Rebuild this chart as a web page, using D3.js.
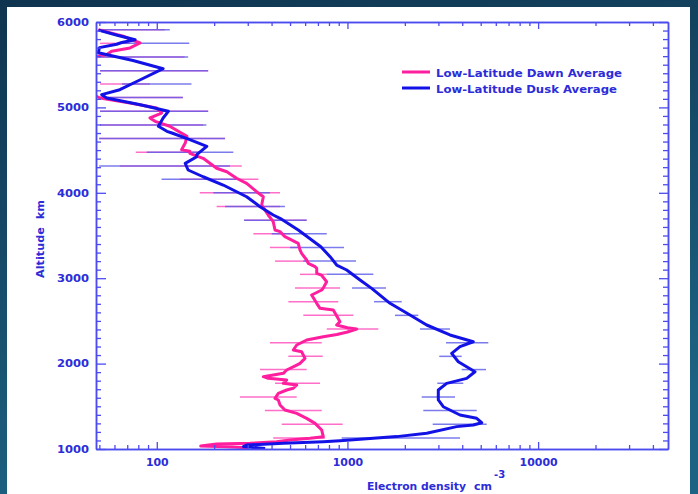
<!DOCTYPE html>
<html>
<head>
<meta charset="utf-8">
<script src="https://cdn.jsdelivr.net/npm/d3@7"></script>
<style>
  body { margin: 0; background: #123a55; }
  text { font-family: "DejaVu Sans", Verdana, sans-serif; font-weight: bold; fill: #2c2cd8; }
</style>
</head>
<body>
<script>
// dusk curve (altitude km, electron density cm-3)
var duskAlt = [5905,5845,5793,5760,5740,5700,5640,5550,5453,5324,5207,5149,5110,5032,4954,4876,4779,4720,4700,4622,4544,4446,4423,4345,4267,4188,4091,3954,3837,3740,3701,3564,3369,3252,3154,3096,2979,2881,2706,2569,2452,2335,2256,2198,2120,2022,1905,1827,1768,1691,1574,1495,1398,1359,1308,1281,1262,1184,1145,1125,1098,1086,1067,1047,1028,1005];
var duskDen = [49.5,62,77,65.5,61.6,50,49.4,75,108,82,64,51.4,54.6,82,115,108,102,113,120,149,183,162,162,141,146,175,223,296,348,408,443,552,725,811,878,991,1164,1340,1672,2129,2604,3450,4571,3893,3522,3814,4666,4221,3316,2996,2996,3182,3893,4763,5059,4571,3741,2604,1813,1367,914,747,461,296,285,370];

// dawn curve
var dawnAlt = [5910,5870,5833,5754,5696,5657,5618,5590,5150,5110,5051,4993,4934,4876,4837,4779,4661,4583,4505,4486,4462,4404,4287,4247,4170,4111,4013,3954,3857,3740,3662,3564,3545,3486,3408,3330,3291,3213,3174,3135,3116,3057,3037,2959,2881,2862,2803,2706,2647,2627,2491,2452,2420,2405,2370,2340,2315,2276,2218,2159,2139,2061,2003,1983,1925,1886,1847,1828,1808,1769,1749,1711,1691,1652,1593,1574,1515,1456,1417,1359,1300,1222,1144,1125,1105,1086,1067,1058,1035,1027,1015];
var dawnDen = [49.4,58,66.7,81.7,72.4,58,54.6,46,46,50.4,72.4,99.9,106,92.1,97.9,117,144,141,135,149,149,175,206,233,262,296,334,362,355,384,408,417,443,470,552,564,575,611,623,676,690,690,730,778,745,733,649,690,718,843,914,878,1000,1118,1000,880,747,611,542,520,575,599,564,542,480,461,362,384,480,461,542,520,480,434,417,434,443,470,542,611,676,733,747,636,500,425,308,206,170,233,300];

// error bars
var barAlt = [5910,5750,5590,5430,5275,5115,4955,4795,4635,4475,4315,4160,4000,3840,3680,3520,3360,3200,3045,2885,2725,2565,2405,2245,2085,1930,1770,1610,1450,1290,1130];
var duskLo = [49.4,64,49.4,50.4,65.7,50.4,50.4,50.4,49.9,88.6,49.9,106,198,228,287,401,500,587,779,1057,1378,1776,2402,3288,3032,3974,2960,2452,2500,2800,933];
var duskHi = [117,148,146,186,152,137,186,182,228,252,242,262,392,470,611,779,959,1109,1367,1593,1926,2353,3450,5480,3974,5329,4051,3665,4763,5375,3893];
var dawnLo = [49.4,50.4,49.4,50.4,50.4,50.4,50.4,50.4,49.9,77.6,64,132,168,206,287,321,392,417,564,531,490,587,779,392,490,348,417,273,369,452,408];
var dawnHi = [110,72,140,186,92,137,186,175,228,168,279,341,443,443,611,500,564,611,779,914,895,1073,1452,733,742,611,718,542,733,944,762];

var yTicks = [1000,2000,3000,4000,5000,6000];
var xTicks = [100,1000,10000];
var seriesNames = ["Low-Latitude Dawn Average","Low-Latitude Dusk Average"];

var W = 698, H = 494;
var plotL = 96, plotR = 668, plotT = 22, plotB = 449;
var axisColor = "#4b4bf0";
var dawnColor = "#ff1f9e", duskColor = "#1212e6";

var svg = d3.select("body").append("svg")
	.attr("width", W)
	.attr("height", H);

var defs = svg.append("defs");
var grad = defs.append("linearGradient").attr("id", "bg")
	.attr("x1", 0).attr("y1", 0).attr("x2", 0.3).attr("y2", 1);
grad.append("stop").attr("offset", "0%").attr("stop-color", "#0f344f");
grad.append("stop").attr("offset", "100%").attr("stop-color", "#1d6383");
defs.append("clipPath").attr("id", "plot")
	.append("rect").attr("x", plotL).attr("y", plotT - 2)
	.attr("width", plotR - plotL).attr("height", plotB - plotT + 2);

svg.append("rect").attr("width", W).attr("height", H).attr("fill", "url(#bg)");
svg.append("rect").attr("x", 7).attr("y", 7).attr("width", 683).attr("height", 487).attr("fill", "#fff");

var x = d3.scaleLog().domain([48, 48000]).range([plotL, plotR]);
var y = d3.scaleLinear().domain([1000, 6000]).range([plotB, plotT]);

var minorX = [];
[10, 100, 1000, 10000].forEach(function(d) {
	for (var k = 2; k <= 9; k++) {
		var v = d * k;
		if (v > 48 && v < 48000 && xTicks.indexOf(v) < 0) minorX.push(v);
	}
});
var minorY = d3.range(1100, 6000, 100).filter(function(v) { return v % 1000 != 0; });

// error bars
var bars = svg.append("g").attr("clip-path", "url(#plot)");
bars.selectAll(".dawnbar")
	.data(barAlt)
	.enter()
	.append("line")
	.attr("x1", function(d, i) { return x(dawnLo[i]); })
	.attr("x2", function(d, i) { return x(dawnHi[i]); })
	.attr("y1", function(d) { return y(d); })
	.attr("y2", function(d) { return y(d); })
	.attr("stroke", "#ff55c0")
	.attr("stroke-opacity", 0.85)
	.attr("stroke-width", 1.5);
bars.selectAll(".duskbar")
	.data(barAlt)
	.enter()
	.append("line")
	.attr("x1", function(d, i) { return x(duskLo[i]); })
	.attr("x2", function(d, i) { return x(duskHi[i]); })
	.attr("y1", function(d) { return y(d); })
	.attr("y2", function(d) { return y(d); })
	.attr("stroke", "#5a5ae8")
	.attr("stroke-opacity", 0.8)
	.attr("stroke-width", 1.5);

// curves
var line = d3.line()
	.x(function(d) { return x(d[1]); })
	.y(function(d) { return y(d[0]); });

var curves = svg.append("g").attr("clip-path", "url(#plot)");
curves.append("path")
	.attr("d", line(d3.zip(dawnAlt, dawnDen)))
	.attr("fill", "none")
	.attr("stroke", dawnColor)
	.attr("stroke-width", 3)
	.attr("stroke-linejoin", "round");
curves.append("path")
	.attr("d", line(d3.zip(duskAlt, duskDen)))
	.attr("fill", "none")
	.attr("stroke", duskColor)
	.attr("stroke-width", 3)
	.attr("stroke-linejoin", "round");

// axes
function styleAxis(g) {
	g.select(".domain").attr("stroke", axisColor).attr("stroke-width", 1.5);
	g.selectAll(".tick line").attr("stroke", axisColor).attr("stroke-width", 1.3);
	g.selectAll("text").attr("font-family", null).attr("font-size", null).attr("fill", null);
}

svg.append("g").attr("transform", "translate(" + plotL + ",0)")
	.call(d3.axisLeft(y).tickValues(minorY).tickSizeInner(-5).tickSizeOuter(0).tickFormat(""))
	.call(styleAxis);
svg.append("g").attr("transform", "translate(" + plotL + ",0)")
	.call(d3.axisLeft(y).tickValues(yTicks).tickSizeInner(-10).tickSizeOuter(0).tickPadding(7).tickFormat(d3.format("d")))
	.call(styleAxis)
	.selectAll("text")
	.attr("font-size", "10.5px")
	.attr("textLength", 32)
	.attr("lengthAdjust", "spacingAndGlyphs");

svg.append("g").attr("transform", "translate(" + plotR + ",0)")
	.call(d3.axisRight(y).tickValues(minorY).tickSizeInner(-5).tickSizeOuter(0).tickFormat(""))
	.call(styleAxis);
svg.append("g").attr("transform", "translate(" + plotR + ",0)")
	.call(d3.axisRight(y).tickValues(yTicks).tickSizeInner(-9).tickSizeOuter(0).tickFormat(""))
	.call(styleAxis);

svg.append("g").attr("transform", "translate(0," + plotB + ")")
	.call(d3.axisBottom(x).tickValues(minorX).tickSizeInner(-4).tickSizeOuter(0).tickFormat(""))
	.call(styleAxis);
svg.append("g").attr("transform", "translate(0," + plotB + ")")
	.call(d3.axisBottom(x).tickValues(xTicks).tickSizeInner(-7).tickSizeOuter(0).tickPadding(10).tickFormat(d3.format("d")))
	.call(styleAxis)
	.selectAll("text")
	.attr("font-size", "10.5px")
	.attr("textLength", function(d) { return String(d).length * 7.6; })
	.attr("lengthAdjust", "spacingAndGlyphs");

svg.append("g").attr("transform", "translate(0," + plotT + ")")
	.call(d3.axisTop(x).tickValues(minorX).tickSizeInner(-4).tickSizeOuter(0).tickFormat(""))
	.call(styleAxis);
svg.append("g").attr("transform", "translate(0," + plotT + ")")
	.call(d3.axisTop(x).tickValues(xTicks).tickSizeInner(-7).tickSizeOuter(0).tickFormat(""))
	.call(styleAxis);

// axis titles
svg.append("text")
	.attr("transform", "translate(44,239) rotate(-90)")
	.attr("text-anchor", "middle")
	.attr("font-size", "11px")
	.attr("textLength", 78)
	.attr("lengthAdjust", "spacingAndGlyphs")
	.attr("xml:space", "preserve")
	.text("Altitude  km");

svg.append("text")
	.attr("x", 367).attr("y", 490)
	.attr("font-size", "11px")
	.attr("textLength", 99)
	.attr("lengthAdjust", "spacingAndGlyphs")
	.text("Electron density");
svg.append("text")
	.attr("x", 474).attr("y", 490)
	.attr("font-size", "11px")
	.text("cm");
svg.append("text")
	.attr("x", 494).attr("y", 478)
	.attr("font-size", "10px")
	.text("-3");

// legend
var legend = svg.append("g");
var legendColors = [dawnColor, duskColor];
var legendY = [72, 88];
legend.selectAll("line")
	.data(seriesNames)
	.enter()
	.append("line")
	.attr("x1", 402).attr("x2", 430)
	.attr("y1", function(d, i) { return legendY[i]; })
	.attr("y2", function(d, i) { return legendY[i]; })
	.attr("stroke", function(d, i) { return legendColors[i]; })
	.attr("stroke-width", 3);
legend.selectAll("text")
	.data(seriesNames)
	.enter()
	.append("text")
	.attr("x", 436)
	.attr("y", function(d, i) { return legendY[i] + 5; })
	.attr("font-size", "11px")
	.attr("textLength", function(d, i) { return i == 0 ? 186 : 181; })
	.attr("lengthAdjust", "spacingAndGlyphs")
	.text(function(d) { return d; });
</script>
</body>
</html>
